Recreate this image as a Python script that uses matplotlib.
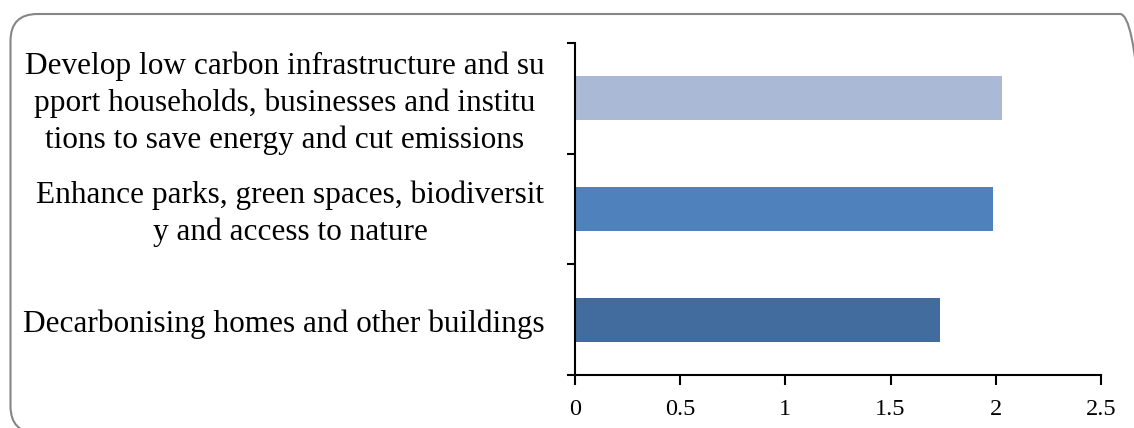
import matplotlib.pyplot as plt
from matplotlib.patches import FancyBboxPatch
from matplotlib.transforms import IdentityTransform, ScaledTranslation

# data
labels = ['Decarbonising homes and other buildings',
          'Enhance parks, green spaces, biodiversit\ny and access to nature',
          'Develop low carbon infrastructure and su\npport households, businesses and institu\ntions to save energy and cut emissions']
values = [1.735, 1.985, 2.03]
colors = ['#416C9D', '#4F81BD', '#AAB9D6']
xticks = [0, 0.5, 1, 1.5, 2, 2.5]

plt.rcParams['font.family'] = ['Liberation Serif', 'DejaVu Serif']

W, H = 1134, 428
fig = plt.figure(figsize=(W / 100, H / 100), dpi=100)

# rounded chart border in pixel coords (runs off the right and bottom edges)
bx0, by_top, bx1, by_bot = 10.5, 14, 1147, 433
border = FancyBboxPatch((bx0, H - by_bot), bx1 - bx0, by_bot - by_top,
                        boxstyle='round,pad=0,rounding_size=27',
                        transform=IdentityTransform(), fill=False,
                        edgecolor='#868686', linewidth=1.5)
fig.patches.append(border)

ax = fig.add_axes([575 / W, 1 - 375 / H, 526 / W, 332 / H])
pos = list(range(len(values)))
ax.barh(pos, values, height=0.4, color=colors)

ax.set_xlim(0, 2.5)
ax.set_ylim(-0.5, 2.5)
ax.set_xticks(xticks)
ax.set_xticklabels([f'{t:g}' for t in xticks], fontsize=17.5)

# category boundaries as major ticks, labels on minor ticks
ax.set_yticks([-0.5, 0.5, 1.5, 2.5])
ax.set_yticklabels([])
ax.set_yticks(pos, minor=True)
ax.set_yticklabels(labels, minor=True, fontsize=22.5, multialignment='center',
                   linespacing=1.32, va='center')
ax.tick_params(axis='y', which='minor', length=0, pad=22)
ax.tick_params(axis='y', which='major', length=6, width=1.5, direction='out')
ax.tick_params(axis='x', length=7, width=1.5, direction='out', pad=10)

# nudge category labels down a little
shift = ScaledTranslation(0, -3.5 / 72, fig.dpi_scale_trans)
for lab in ax.get_yticklabels(minor=True):
    lab.set_transform(lab.get_transform() + shift)

for side in ['top', 'right']:
    ax.spines[side].set_visible(False)
for side in ['left', 'bottom']:
    ax.spines[side].set_linewidth(1.5)

fig.savefig('out.png', dpi=100)
